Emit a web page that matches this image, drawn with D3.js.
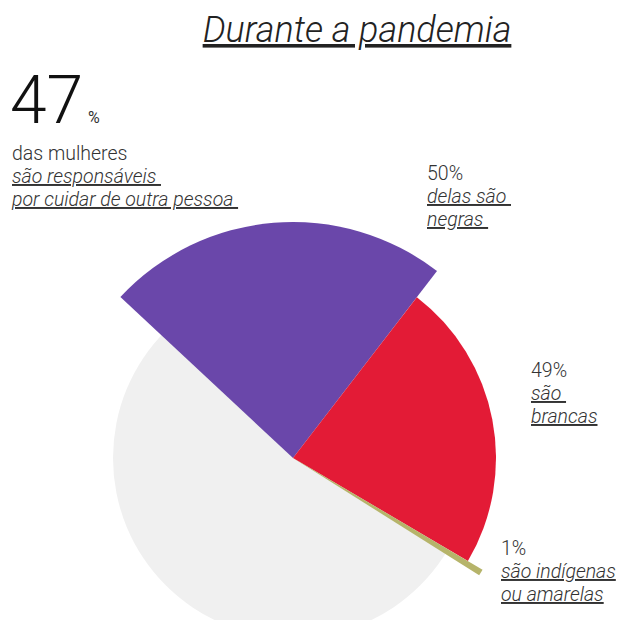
<!DOCTYPE html>
<html>
<head>
<meta charset="utf-8">
<script src="https://cdn.jsdelivr.net/npm/d3@7"></script>
<style>
  body { margin: 0; background: #fff; }
  svg text { font-family: Roboto, "Noto Sans", sans-serif; fill: #333; }
  .u { text-decoration: underline; font-style: italic; }
</style>
</head>
<body>
<svg id="chart"></svg>
<script>
// données
const totalShare = 47;                    // % das mulheres
const groups = ["negras", "brancas", "indigenas"];
const groupValues = [50, 49, 1];
const groupPercents = ["50%", "49%", "1%"];
const groupLines = [
  ["delas são\u00a0", "negras\u00a0"],
  ["são\u00a0", "brancas"],
  ["são indígenas", "ou amarelas"]
];

const svg = d3.select("#chart");
svg.attr("width", 627).attr("height", 620);

const cx = 293, cy = 458;
const colors = { negras: "#6a47aa", brancas: "#e31b36", indigenas: "#b6b46a" };
const radius = { negras: 236, brancas: 203, indigenas: 220 };
const labelPos = { negras: [427, 180], brancas: [531, 377], indigenas: [501, 555] };

// fond gris (100%)
svg.append("circle")
  .attr("cx", cx).attr("cy", cy).attr("r", 180)
  .attr("fill", "#f0f0f0");

const startA = -47 * Math.PI / 180;
const pie = d3.pie().sort(null)
  .startAngle(startA)
  .endAngle(startA + 2 * Math.PI * totalShare / 100);

const arcs = pie(groupValues).map((d, i) => ({ ...d, key: groups[i] }));

const g = svg.append("g").attr("transform", `translate(${cx},${cy})`);
g.selectAll("path")
  .data(arcs)
  .join("path")
  .attr("d", d => d3.arc().innerRadius(0).outerRadius(radius[d.key])(d))
  .attr("fill", d => colors[d.key]);

// titre
svg.append("text")
  .attr("x", 357).attr("y", 42)
  .attr("text-anchor", "middle")
  .attr("class", "u")
  .style("font-size", "36px")
  .style("font-weight", 300)
  .style("fill", "#222")
  .text("Durante a pandemia");

// 47%
svg.append("text")
  .attr("x", 10).attr("y", 123)
  .style("font-size", "66px")
  .style("font-weight", 300)
  .style("fill", "#111")
  .text(totalShare);
svg.append("text")
  .attr("x", 88).attr("y", 123)
  .style("font-size", "16px")
  .text("%");

const intro = svg.append("text").style("font-size", "19.5px").style("font-weight", 300);
intro.append("tspan").attr("x", 12).attr("y", 160).text("das mulheres");
intro.append("tspan").attr("x", 12).attr("y", 183).attr("class", "u").text("são responsáveis\u00a0");
intro.append("tspan").attr("x", 12).attr("y", 206).attr("class", "u").text("por cuidar de outra pessoa\u00a0");

// étiquettes
groups.forEach((k, i) => {
  const [x, y] = labelPos[k];
  const t = svg.append("text").style("font-size", "19.5px").style("font-weight", 300);
  t.append("tspan").attr("x", x).attr("y", y).text(groupPercents[i]);
  groupLines[i].forEach((line, j) => {
    t.append("tspan").attr("x", x).attr("y", y + 23 * (j + 1))
      .attr("class", "u").text(line);
  });
});
</script>
</body>
</html>
